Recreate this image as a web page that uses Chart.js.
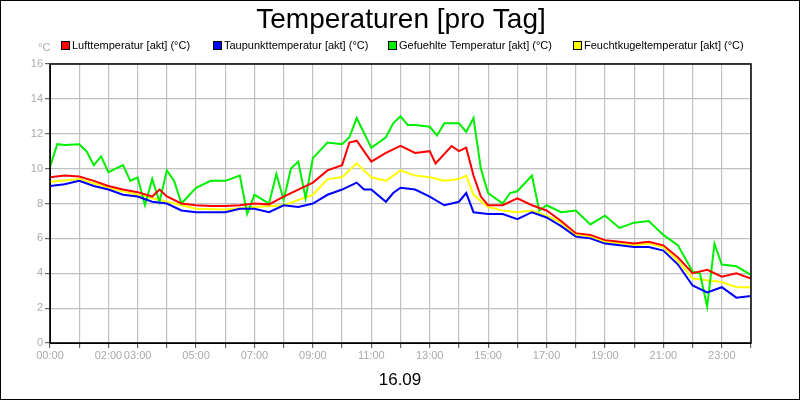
<!DOCTYPE html>
<html><head><meta charset="utf-8">
<script src="https://cdn.jsdelivr.net/npm/chart.js@4"></script>
<style>body{margin:0;background:#fff}#w{width:800px;height:400px;position:relative;box-sizing:border-box;border:1px solid #000}</style>
</head><body><div id="w"><canvas id="c"></canvas></div>
<script>
const seriesNames=["Lufttemperatur [akt] (°C)","Taupunkttemperatur [akt] (°C)","Gefuehlte Temperatur [akt] (°C)","Feuchtkugeltemperatur [akt] (°C)"];
const colors=["#ff0000","#0000ff","#00ee00","#ffff00"];
const tickHours=[0,2,3,5,7,9,11,13,15,17,19,21,23];
const luftHours=[0,0.5,1,1.5,2,2.5,3,3.5,3.75,4,4.5,5,5.5,6,6.5,7,7.5,8,8.5,9,9.5,10,10.25,10.5,11,11.5,12,12.5,13,13.2,13.75,14,14.25,14.5,14.75,15,15.5,16,16.5,17,17.5,18,18.5,19,19.5,20,20.5,21,21.5,22,22.5,23,23.5,24];
const luftVals=[9.5,9.6,9.55,9.3,9.0,8.8,8.65,8.4,8.8,8.4,8.0,7.9,7.85,7.85,7.9,8.0,7.95,8.4,8.8,9.2,9.9,10.2,11.5,11.6,10.4,10.9,11.3,10.9,11.0,10.3,11.3,11.0,11.2,9.6,8.4,7.9,7.9,8.3,7.9,7.6,7.0,6.3,6.2,5.9,5.8,5.7,5.8,5.6,4.9,4.0,4.2,3.8,4.0,3.7];
const tauHours=[0,0.5,1,1.5,2,2.5,3,3.5,4,4.5,5,5.5,6,6.5,7,7.5,8,8.5,9,9.5,10,10.5,10.75,11,11.5,11.75,12,12.5,13,13.5,14,14.25,14.5,15,15.5,16,16.5,17,17.5,18,18.5,19,19.5,20,20.5,21,21.5,22,22.5,23,23.5,24];
const tauVals=[9.0,9.1,9.3,9.0,8.8,8.5,8.4,8.1,8.0,7.6,7.5,7.5,7.5,7.7,7.7,7.5,7.9,7.8,8.0,8.5,8.8,9.2,8.8,8.8,8.1,8.6,8.9,8.8,8.4,7.9,8.1,8.6,7.5,7.4,7.4,7.1,7.5,7.2,6.7,6.1,6.0,5.7,5.6,5.5,5.5,5.3,4.5,3.3,2.9,3.2,2.6,2.7];
const gefHours=[0,0.25,0.5,1,1.25,1.5,1.75,2,2.5,2.75,3,3.25,3.5,3.75,4,4.25,4.5,5,5.5,6,6.5,6.75,7,7.5,7.75,8,8.25,8.5,8.75,9,9.5,10,10.25,10.5,11,11.5,11.75,12,12.25,12.5,13,13.25,13.5,14,14.25,14.5,14.75,15,15.5,15.75,16,16.5,16.75,17,17.5,18,18.5,19,19.5,20,20.5,21,21.5,22,22.25,22.5,22.75,23,23.5,24];
const gefVals=[10.1,11.4,11.35,11.4,11.0,10.2,10.7,9.8,10.2,9.3,9.5,7.9,9.4,8.1,9.9,9.3,8.0,8.9,9.3,9.3,9.6,7.4,8.5,8.0,9.7,8.2,10.0,10.4,8.3,10.6,11.5,11.4,11.8,12.9,11.2,11.8,12.6,13.0,12.5,12.5,12.4,11.9,12.6,12.6,12.1,12.9,10.0,8.6,8.0,8.6,8.7,9.6,7.6,7.9,7.5,7.6,6.8,7.3,6.6,6.9,7.0,6.2,5.6,4.1,4.0,2.1,5.7,4.5,4.4,3.9];
const feuchtHours=[0,1,2,3,4,5,6,7,8,8.5,9,9.5,10,10.5,11,11.5,12,12.5,13,13.5,14,14.25,14.5,15,15.5,16,16.5,17,17.5,18,18.5,19,19.5,20,20.5,21,21.5,22,22.5,23,23.5,24];
const feuchtVals=[9.25,9.4,8.9,8.5,8.1,7.7,7.65,7.8,7.9,8.2,8.5,9.4,9.5,10.3,9.5,9.3,9.9,9.6,9.5,9.3,9.4,9.6,8.5,7.8,7.6,7.5,7.6,7.3,6.9,6.2,6.1,5.8,5.7,5.6,5.7,5.5,4.7,3.7,3.6,3.5,3.2,3.2];
const yTicks=[0,2,4,6,8,10,12,14,16];

const pts=(h,v)=>h.map((x,i)=>({x:x,y:v[i]}));
const data=[pts(luftHours,luftVals),pts(tauHours,tauVals),pts(gefHours,gefVals),pts(feuchtHours,feuchtVals)];
const order=[2,3,0,1];
const datasets=order.map(i=>({label:seriesNames[i],data:data[i],borderColor:colors[i],backgroundColor:colors[i],borderWidth:2,pointRadius:0,tension:0,order:i}));
const legendPlugin={id:'leg',afterDraw(ch){const c=ch.ctx;c.save();c.font='11px "Liberation Sans", Arial';c.textBaseline='middle';
 const xs=[60,212,387,572];seriesNames.forEach((n,i)=>{c.fillStyle=colors[i];c.fillRect(xs[i],40,8,8);c.strokeStyle='#000';c.lineWidth=1;c.strokeRect(xs[i]+0.5,40.5,8,8);c.fillStyle='#000';c.fillText(n,xs[i]+11,45);});
 c.fillStyle='#aaa';c.fillText('°C',37,47);
 c.fillStyle='#000';c.font='28px "Liberation Sans", Arial';c.textAlign='center';c.fillText('Temperaturen [pro Tag]',400,19);
 c.font='17px "Liberation Sans", Arial';c.fillText('16.09',399,379);
 const a=ch.chartArea;c.strokeStyle='#000';c.lineWidth=1.5;c.strokeRect(a.left,a.top,a.right-a.left,a.bottom-a.top);c.restore();}};
new Chart(document.getElementById('c'),{type:'line',data:{datasets},plugins:[legendPlugin],
options:{responsive:true,maintainAspectRatio:false,animation:false,layout:{padding:{top:63,left:0,right:48,bottom:0}},
plugins:{legend:{display:false},tooltip:{enabled:false}},
scales:{x:{type:'linear',min:0,max:24,afterBuildTicks(s){s.ticks=[];for(let h=0;h<=24;h++)s.ticks.push({value:h});},afterFit(s){s.height=56;},
 grid:{color:'#c0c0c0',lineWidth:1.2,tickLength:5,tickColor:'#666'},border:{color:'#000'},
 ticks:{autoSkip:false,maxRotation:0,color:'#aaa',font:{size:11,family:'"Liberation Sans", Arial'},padding:1,callback:v=>tickHours.includes(v)?String(v).padStart(2,'0')+':00':''}},
 y:{min:0,max:16,afterBuildTicks(s){s.ticks=yTicks.map(v=>({value:v}));},afterFit(s){s.width=49;},
 grid:{color:'#c0c0c0',lineWidth:1.2,tickLength:5,tickColor:'#666'},border:{color:'#000'},
 ticks:{color:'#aaa',font:{size:11,family:'"Liberation Sans", Arial'},padding:2}}}}});
</script></body></html>
